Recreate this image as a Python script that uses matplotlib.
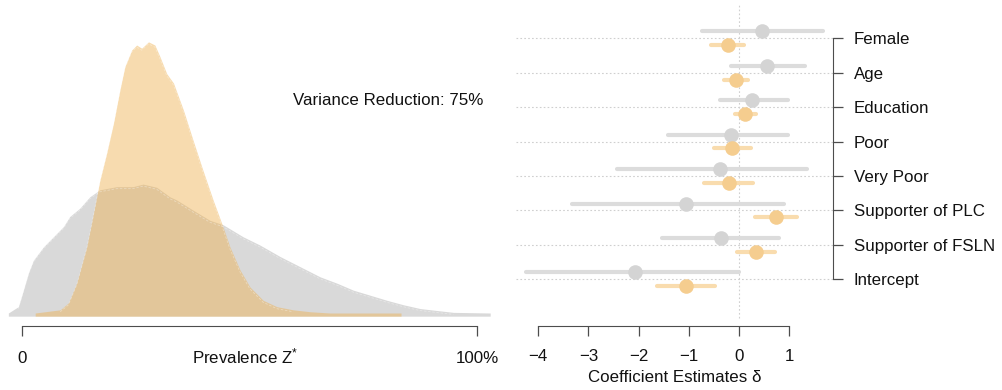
import matplotlib; matplotlib.use("Agg")
import matplotlib.pyplot as plt
import matplotlib.transforms as mtransforms

plt.rcParams.update({"font.family": ["Liberation Sans", "DejaVu Sans"], "font.size": 12.2,
                     "mathtext.default": "regular"})

# prevalence densities (x in %, relative density)
grey_x = [-3.0, -0.8, 0.3, 1.4, 2.5, 4.7, 6.9, 9.1, 10.5, 12.7, 14.9, 17.1, 20.8, 24.4, 26.6,
          29.6, 32.5, 34.0, 37.6, 41.3, 44.2, 48.6, 52.3, 56.7, 61.1, 65.5, 69.2, 72.8, 76.5,
          80.2, 83.8, 87.5, 91.1, 94.8, 102.9]
grey_d = [0.0, 0.10, 0.36, 0.63, 0.83, 1.04, 1.20, 1.36, 1.52, 1.65, 1.83, 1.94, 1.99, 1.99, 2.03,
          1.98, 1.83, 1.78, 1.62, 1.46, 1.39, 1.20, 1.07, 0.89, 0.73, 0.57, 0.47, 0.36, 0.28,
          0.20, 0.13, 0.07, 0.04, 0.01, 0.0]
post_x = [2.9, 8.4, 10.2, 12.0, 14.2, 15.7, 17.1, 18.6, 20.1, 21.5, 22.6, 24.1, 25.2, 26.3, 27.8,
          29.2, 30.3, 31.8, 33.3, 35.5, 37.6, 39.8, 42.0, 43.9, 45.7, 47.9, 50.1, 53.0, 56.0,
          59.6, 63.3, 67.7, 83.3]
post_d = [0.0, 0.05, 0.16, 0.47, 1.04, 1.57, 2.09, 2.52, 2.99, 3.51, 3.88, 4.14, 4.22, 4.17, 4.27,
          4.22, 4.04, 3.77, 3.62, 3.19, 2.72, 2.24, 1.78, 1.41, 1.04, 0.68, 0.41, 0.20, 0.10,
          0.05, 0.02, 0.0, 0.0]
var_reduction = 75

# coefficient estimates
labels = ["Female", "Age", "Education", "Poor", "Very Poor",
          "Supporter of PLC", "Supporter of FSLN", "Intercept"]
grey_est = [0.47, 0.57, 0.27, -0.16, -0.37, -1.06, -0.36, -2.08]
grey_lo = [-0.74, -0.15, -0.38, -1.41, -2.43, -3.33, -1.53, -4.24]
grey_hi = [1.68, 1.32, 0.99, 0.99, 1.36, 0.90, 0.80, 0.00]
orng_est = [-0.21, -0.05, 0.13, -0.13, -0.19, 0.75, 0.34, -1.06]
orng_lo = [-0.56, -0.29, -0.07, -0.49, -0.69, 0.32, -0.03, -1.63]
orng_hi = [0.11, 0.19, 0.34, 0.24, 0.29, 1.16, 0.72, -0.47]

GREY = "#d9d9d9"
ORANGE = "#efb14e"
AXC = "#4d4d4d"
TXT = "#111111"

W, H = 1003, 390
fig = plt.figure(figsize=(W / 100, H / 100), dpi=100)

def px_axes(x0, x1, ytop, ybot):
    return fig.add_axes([x0 / W, 1 - ybot / H, (x1 - x0) / W, (ybot - ytop) / H])

def below_axis(a, xdata, dy):
    # x in data units, y a fixed pixel distance under the axes bottom
    return mtransforms.offset_copy(
        mtransforms.blended_transform_factory(a.transData, a.transAxes),
        fig=fig, x=0, y=-dy, units="dots")

# ---- left: densities ----
ax = px_axes(0, 500, 20, 326)
ax.set_xlim(-22 / 4.55, (500 - 22) / 4.55)
ax.set_ylim(-13 / 63.5, -13 / 63.5 + 306 / 63.5)
base = -0.05
ax.fill_between(grey_x, grey_d, base, color=GREY, lw=0, zorder=1)
ax.fill_between(post_x, post_d, base, color=ORANGE, alpha=0.45, lw=0, zorder=2)
off = mtransforms.offset_copy(ax.transData, fig=fig, x=0, y=-2, units="dots")
ax.plot(grey_x[1:-1], grey_d[1:-1], color="white", lw=0.6, ls=(0, (3, 2)), alpha=0.35,
        transform=off, zorder=3)
ax.plot(post_x[1:-3], post_d[1:-3], color="white", lw=0.6, ls=(0, (3, 2)), alpha=0.35,
        transform=off, zorder=3)
ax.text(101.3, 3.35, f"Variance Reduction: {var_reduction}%", ha="right", va="center",
        color=TXT)
for s in ["top", "right", "left"]:
    ax.spines[s].set_visible(False)
ax.spines["bottom"].set_bounds(0, 100)
ax.spines["bottom"].set_color(AXC)
ax.set_yticks([])
ax.set_xticks([0, 100])
ax.set_xticklabels(["0", "100%"])
ax.tick_params(axis="x", direction="out", length=7, width=0.9, color=AXC, pad=11,
               labelcolor=TXT)
ax.text(49, 0, r"Prevalence Z$^{*}$", ha="center", va="center", color=TXT,
        transform=below_axis(ax, 49, 30))

# ---- right: coefficients ----
bx = px_axes(510, 833, 5, 325.7)
bx.set_xlim(-4 - 28.3 / 50.14, 1 + 44 / 50.14)
ypos = list(range(len(labels), 0, -1))
bx.set_ylim(1 - 46.4 / 34.43, 8 + 33.3 / 34.43)
for y in ypos:
    bx.plot([-4.445, bx.get_xlim()[1]], [y, y], color="#cfcfcf", lw=0.8, ls=(0, (1.5, 2)), zorder=0)
bx.axvline(0, color="#cfcfcf", lw=0.8, ls=(0, (1.5, 2)), ymin=(325.7 - 318) / (325.7 - 5), zorder=0)
for y, e, lo, hi in zip(ypos, grey_est, grey_lo, grey_hi):
    bx.plot([lo, hi], [y + 0.2, y + 0.2], color="#dcdcdc", lw=3, solid_capstyle="round", zorder=1)
    bx.plot(e, y + 0.2, "o", ms=10.5, color="#d4d4d4", mec="none", zorder=2)
for y, e, lo, hi in zip(ypos, orng_est, orng_lo, orng_hi):
    bx.plot([lo, hi], [y - 0.2, y - 0.2], color="#f9dcae", lw=3, solid_capstyle="round", zorder=1)
    bx.plot(e, y - 0.2, "o", ms=10.5, color="#f5cd8f", mec="none", zorder=2)

for s in ["top", "left"]:
    bx.spines[s].set_visible(False)
bx.spines["right"].set_bounds(1, 8)
bx.spines["bottom"].set_bounds(-4, 1)
bx.spines["right"].set_color(AXC)
bx.spines["bottom"].set_color(AXC)
bx.yaxis.tick_right()
bx.set_yticks(ypos)
bx.set_yticklabels(labels)
bx.tick_params(axis="y", direction="out", length=7, width=0.9, color=AXC, pad=8,
               labelcolor=TXT)
bx.set_xticks([-4, -3, -2, -1, 0, 1])
bx.set_xticklabels(["\u22124", "\u22123", "\u22122", "\u22121", "0", "1"])
bx.tick_params(axis="x", direction="out", length=7, width=0.9, color=AXC, pad=10,
               labelcolor=TXT)
bx.text(-1.28, 0, "Coefficient Estimates \u03b4", ha="center", va="center", color=TXT,
        transform=below_axis(bx, -1.28, 52))

fig.savefig("out.png", dpi=100)
